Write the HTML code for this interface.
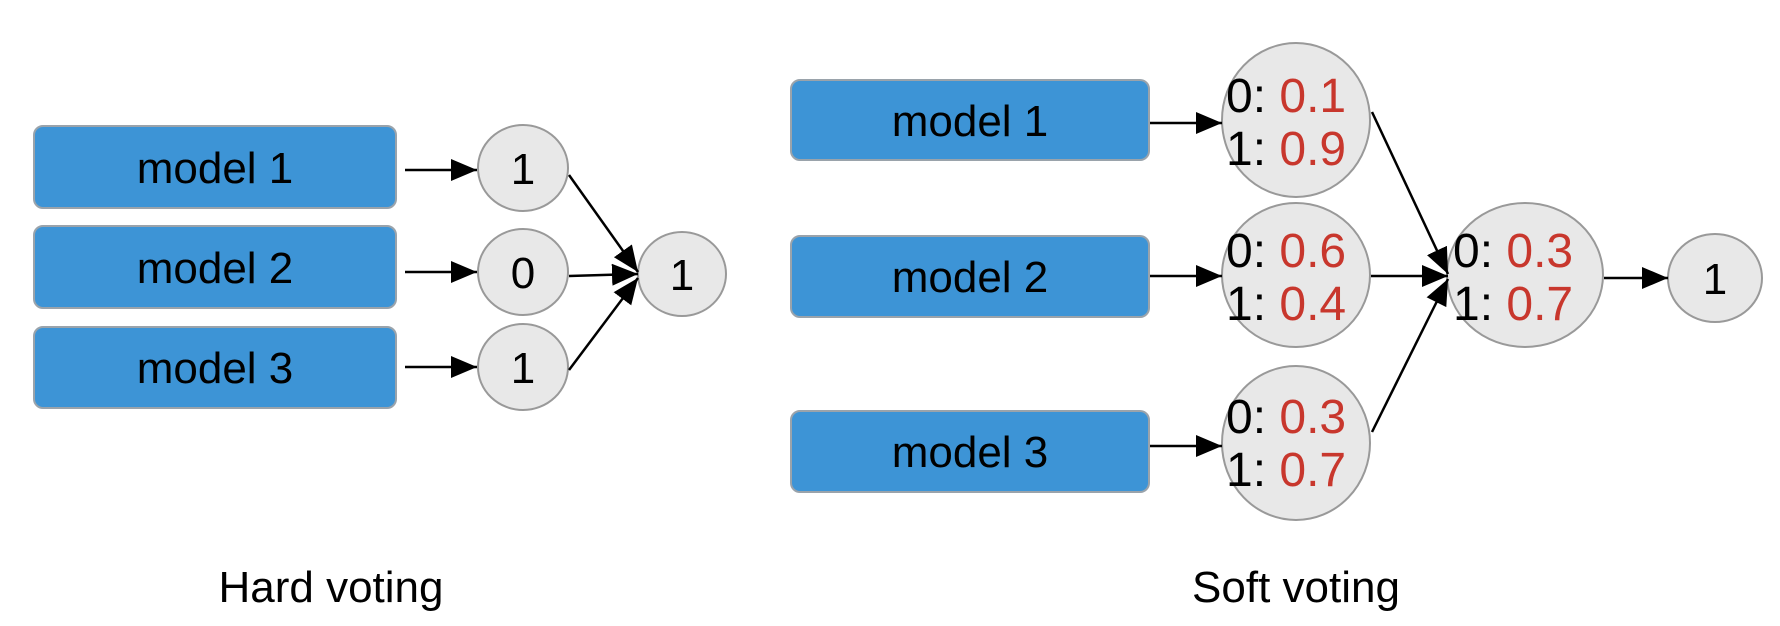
<!DOCTYPE html>
<html><head><meta charset="utf-8"><style>
html,body{margin:0;padding:0;background:#fff;}
svg{display:block;}
text{font-family:"Liberation Sans",Arial,sans-serif;}
</style></head><body>
<svg width="1780" height="626" viewBox="0 0 1780 626" xmlns="http://www.w3.org/2000/svg">
<defs>
<marker id="a" markerWidth="10" markerHeight="8" refX="10" refY="4" orient="auto" markerUnits="userSpaceOnUse" viewBox="0 0 10 8">
</marker>
<marker id="ah" viewBox="0 0 10 10" refX="10" refY="5" markerWidth="26" markerHeight="22" markerUnits="userSpaceOnUse" orient="auto" preserveAspectRatio="none"><path d="M0,0 L10,5 L0,10 z" fill="#000"/></marker>
</defs>
<g fill="#3d94d6" stroke="#9aa3ab" stroke-width="2">
<rect x="34" y="126" width="362" height="82" rx="9"/>
<rect x="34" y="226" width="362" height="82" rx="9"/>
<rect x="34" y="327" width="362" height="81" rx="9"/>
<rect x="791" y="80" width="358" height="80" rx="9"/>
<rect x="791" y="236" width="358" height="81" rx="9"/>
<rect x="791" y="411" width="358" height="81" rx="9"/>
</g>
<g font-size="44" fill="#000" text-anchor="middle">
<text x="215" y="183">model 1</text>
<text x="215" y="283">model 2</text>
<text x="215" y="383">model 3</text>
<text x="970" y="136">model 1</text>
<text x="970" y="292">model 2</text>
<text x="970" y="467">model 3</text>
</g>
<g fill="#e8e8e8" stroke="#999" stroke-width="2">
<ellipse cx="523" cy="168" rx="45" ry="43"/>
<ellipse cx="523" cy="272" rx="45" ry="43"/>
<ellipse cx="523" cy="367" rx="45" ry="43"/>
<ellipse cx="682" cy="274" rx="44" ry="42"/>
<ellipse cx="1296" cy="120" rx="74" ry="77"/>
<ellipse cx="1296" cy="275" rx="74" ry="72"/>
<ellipse cx="1296" cy="443" rx="74" ry="77"/>
<ellipse cx="1525" cy="275" rx="78" ry="72"/>
<ellipse cx="1715" cy="278" rx="47" ry="44"/>
</g>
<g font-size="44" fill="#000" text-anchor="middle">
<text x="523" y="184">1</text>
<text x="523" y="288">0</text>
<text x="523" y="383">1</text>
<text x="682" y="290">1</text>
<text x="1715" y="294">1</text>
</g>
<g font-size="48" fill="#000">
<text x="1226" y="112">0: <tspan fill="#c8372d">0.1</tspan></text>
<text x="1226" y="165">1: <tspan fill="#c8372d">0.9</tspan></text>
<text x="1226" y="267">0: <tspan fill="#c8372d">0.6</tspan></text>
<text x="1226" y="320">1: <tspan fill="#c8372d">0.4</tspan></text>
<text x="1226" y="433">0: <tspan fill="#c8372d">0.3</tspan></text>
<text x="1226" y="486">1: <tspan fill="#c8372d">0.7</tspan></text>
<text x="1453" y="267">0: <tspan fill="#c8372d">0.3</tspan></text>
<text x="1453" y="320">1: <tspan fill="#c8372d">0.7</tspan></text>
</g>
<g stroke="#000" stroke-width="2.5" marker-end="url(#ah)">
<line x1="405" y1="170" x2="477" y2="170"/>
<line x1="405" y1="272" x2="477" y2="272"/>
<line x1="405" y1="367" x2="477" y2="367"/>
<line x1="569" y1="175" x2="638" y2="272"/>
<line x1="569" y1="276" x2="638" y2="274"/>
<line x1="569" y1="370" x2="638" y2="278"/>
<line x1="1150" y1="123" x2="1222" y2="123"/>
<line x1="1150" y1="276" x2="1222" y2="276"/>
<line x1="1150" y1="446" x2="1222" y2="446"/>
<line x1="1372" y1="112" x2="1448" y2="274"/>
<line x1="1371" y1="276" x2="1448" y2="276"/>
<line x1="1372" y1="432" x2="1448" y2="279"/>
<line x1="1604" y1="278" x2="1668" y2="278"/>
</g>
<g font-size="44" fill="#000" text-anchor="middle">
<text x="331" y="602">Hard voting</text>
<text x="1296" y="602">Soft voting</text>
</g>
</svg>
</body></html>
